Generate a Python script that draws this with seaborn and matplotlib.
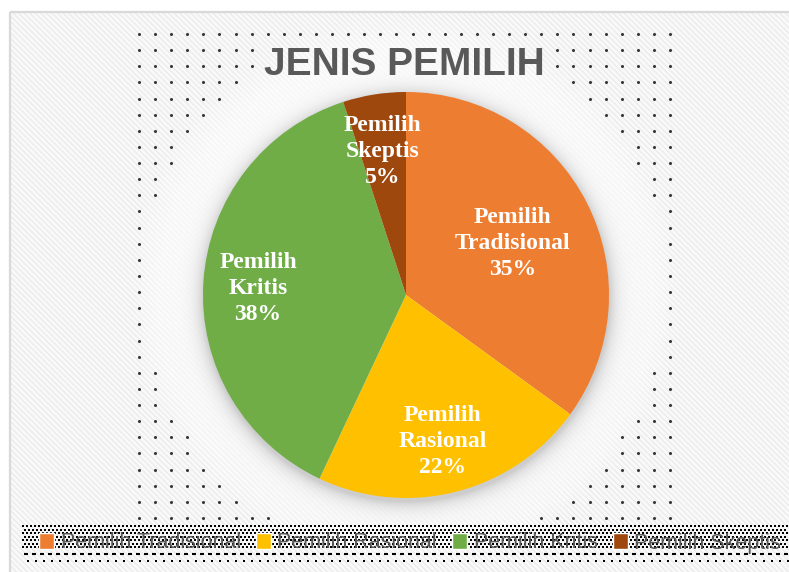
import numpy as np
import matplotlib
matplotlib.use('Agg')
import matplotlib.pyplot as plt
from matplotlib.patches import Rectangle, Patch
import seaborn as sns

# data
categories = ['Pemilih Tradisional', 'Pemilih Rasional', 'Pemilih Kritis', 'Pemilih Skeptis']
shares = [35, 22, 38, 5]
slice_colors = ['#ED7D31', '#FFC000', '#70AD47', '#9E480E']
chart_title = 'JENIS PEMILIH'

W, H = 789, 572
sns.set_theme(style='white')
plt.rcParams['font.family'] = ['Liberation Sans', 'DejaVu Sans']
plt.rcParams['hatch.linewidth'] = 1.2
palette = sns.color_palette(slice_colors)

fig = plt.figure(figsize=(W / 100, H / 100), dpi=100)
fig.patch.set_facecolor('white')

# background layer in pixel coords
bg = fig.add_axes([0, 0, 1, 1], zorder=-1)
bg.axis('off')
bg.add_patch(Rectangle((10, 12), W, H, facecolor='#FAFAFA', edgecolor='#EDEDED',
                       hatch='\\\\\\\\\\\\', lw=0, zorder=0))
bg.add_patch(Rectangle((10, 12), W, H, fill=False, edgecolor='#D9D9D9', lw=1.6, zorder=5))

cx, cy, r = 406, 295, 203
yy, xx = np.mgrid[0:H, 0:W]
d = np.hypot(xx - 404, yy - 290)
glow = np.ones((H, W, 4))
glow[..., 3] = np.clip((278 - d) / 70, 0, 1) * 0.95
bg.imshow(glow, extent=(0, W, H, 0), aspect='auto', zorder=1)

ds = np.hypot(xx - cx, yy - (cy + 3))
shadow = np.zeros((H, W, 4))
shadow[..., :3] = 0.45
shadow[..., 3] = np.where(ds > r - 5, 0.35 * np.exp(-np.clip(ds - r, 0, None) / 9), 0)
bg.imshow(shadow, extent=(0, W, H, 0), aspect='auto', zorder=1.5)

# dotted decoration around the pie
gx, gy = np.meshgrid(np.linspace(139, 670, 34), np.linspace(34, 518, 31))
keep = (np.hypot(gx - 404, gy - 290) > 262) | (gy < 40)
keep &= ~((gx > 252) & (gx < 553) & (gy > 42) & (gy < 90))
bg.scatter(gx[keep], gy[keep], s=5, color='#3A3A3A', lw=0, zorder=2)

# dotted band behind legend
for i, y in enumerate(np.arange(526, 549, 3.5)):
    xs = np.arange(23 + 2 * (i % 2), W, 4)
    bg.scatter(xs, np.full(len(xs), y), marker='s', s=2.4, color='black', lw=0, zorder=3)
xs = np.arange(26, W, 8)
bg.scatter(xs, np.full(len(xs), 554), marker='_', s=7, color='black', lw=1.5, zorder=3)
xs = np.arange(28, W, 8)
bg.scatter(xs, np.full(len(xs), 561), marker='s', s=2.6, color='black', lw=0, zorder=3)

bg.set_xlim(0, W)
bg.set_ylim(H, 0)

# pie
ax = fig.add_axes([(cx - r) / W, (H - cy - r) / H, 2 * r / W, 2 * r / H], zorder=2)
wedges, _ = ax.pie(shares, colors=palette, startangle=90, counterclock=False,
                   wedgeprops=dict(lw=0))
ax.set_xlim(-1, 1)
ax.set_ylim(-1, 1)
ax.axis('off')

label_r = [0.59, 0.73, 0.73, 0.73]
for w, cat, v, lr in zip(wedges, categories, shares, label_r):
    th = np.deg2rad((w.theta1 + w.theta2) / 2)
    first, second = cat.split(' ', 1)
    ax.text(lr * np.cos(th), lr * np.sin(th) - 0.015, f'{first}\n{second}\n{v}%',
            ha='center', va='center', color='white', fontsize=17, fontweight='bold',
            family=['Liberation Serif', 'DejaVu Serif'], linespacing=1.32)

fig.text(404.5 / W, 1 - 75 / H, chart_title, ha='center', va='baseline',
         fontsize=28, fontweight='bold', color='#595959')

handles = [Patch(facecolor=c, edgecolor='white', lw=1.0, label=l)
           for c, l in zip(palette, categories)]
fig.legend(handles=handles, loc='center', bbox_to_anchor=(410 / W, 1 - 543 / H), ncol=4,
           frameon=False, fontsize=15.5, handlelength=0.7, handleheight=0.7,
           handletextpad=0.3, columnspacing=0.7, borderpad=0, labelcolor='#595959')

fig.savefig('out.png', dpi=100)
